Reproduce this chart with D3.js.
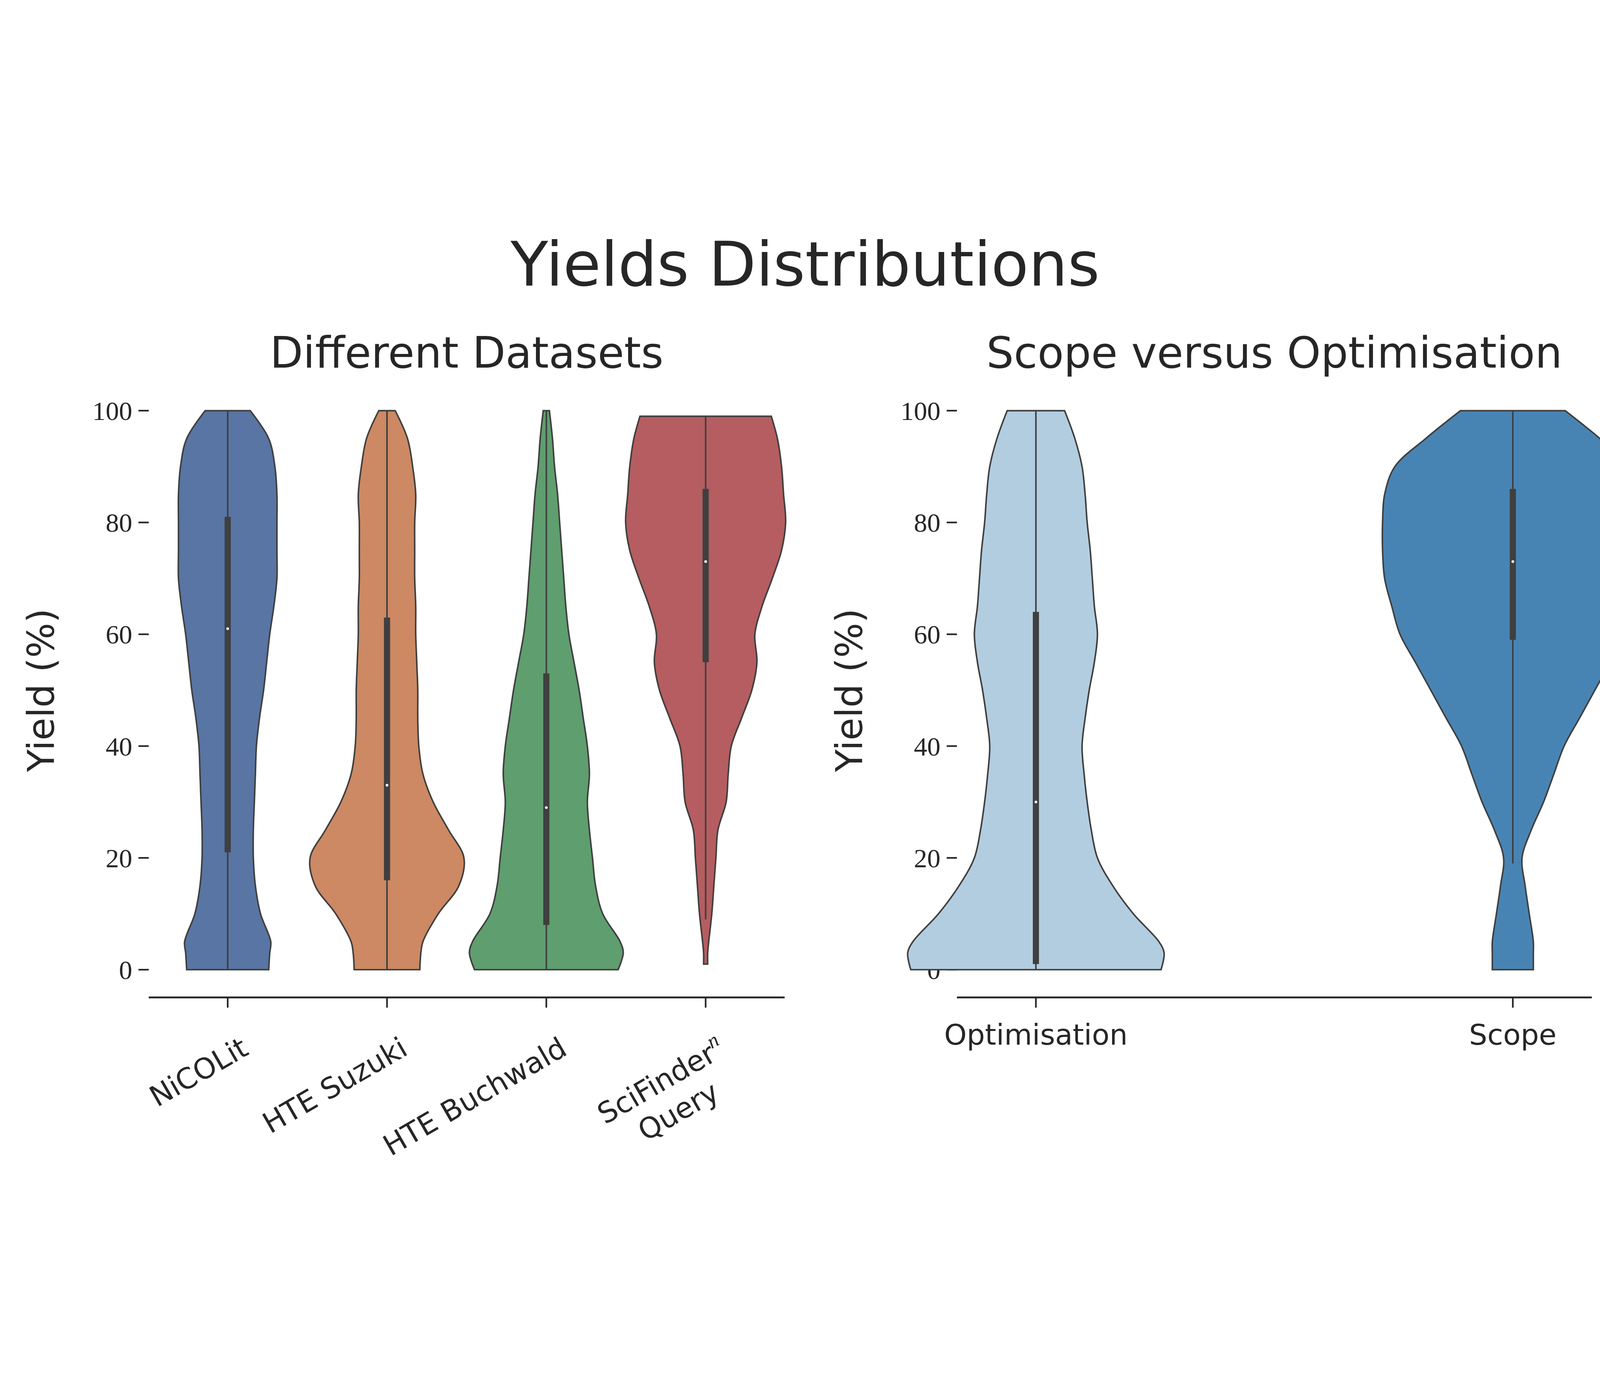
<!DOCTYPE html>
<html><head><meta charset="utf-8">
<script src="https://cdn.jsdelivr.net/npm/d3@7"></script>
<style>html,body{margin:0;padding:0;background:#fff;overflow:hidden}svg{display:block;width:100vw;height:100vh}</style>
</head><body>
<script>
// yields; density = relative half-width of each violin
var yieldsLevels = [0, 3, 5, 10, 15, 20, 25, 30, 35, 40, 45, 50, 55, 60, 65, 70, 75, 80, 85, 90, 95, 100];
var leftCats = ["NiCOLit", "HTE Suzuki", "HTE Buchwald", "SciFinder"];
var leftColors = ["#5875a4", "#cc8963", "#5f9e6e", "#b55d60"];
var nicolit = [40, 41, 42, 32, 27, 25, 25, 26, 27, 28, 31, 35, 38, 41, 45, 48, 48, 48, 48, 46, 40, 22];
var suzuki = [32, 33, 35, 50, 70, 75, 60, 45, 35, 31, 30, 30, 29, 28, 28, 27, 27, 27, 28, 25, 20, 8];
var buchwald = [70, 75, 72, 55, 48, 45, 42, 40, 42, 40, 36, 32, 27, 22, 19, 17, 15, 13, 11, 8, 6, 3];
var scifinder = [2, 2, 3, 6, 8, 10, 12, 20, 22, 25, 35, 45, 50, 48, 55, 65, 74, 78, 76, 74, 70, 64];
var leftDens = [nicolit, suzuki, buchwald, scifinder];
var leftRange = [[0, 100], [0, 100], [0, 100], [1, 99]];
var leftWhisk = [[0, 100], [0, 100], [0, 100], [9, 99]];
var leftQuart = [[21, 81], [16, 63], [8, 53], [55, 86]];
var leftMed = [61, 33, 29, 73];

var rightCats = ["Optimisation", "Scope"];
var rightColors = ["#b3cde0", "#4884b3"];
var optimisation = [122, 125, 120, 95, 75, 60, 54, 50, 47, 45, 48, 52, 57, 60, 57, 55, 53, 50, 48, 45, 38, 28];
var scope = [20, 20, 20, 16, 12, 9, 18, 30, 40, 50, 65, 80, 95, 110, 118, 125, 127, 127, 125, 115, 85, 51];
var rightDens = [optimisation, scope];
var rightRange = [[0, 100], [0, 100]];
var rightWhisk = [[0, 100], [19, 100]];
var rightQuart = [[1, 64], [59, 86]];
var rightMed = [30, 73];

var yTicks = [0, 20, 40, 60, 80, 100];

var svg = d3.select("body").append("svg")
    .attr("viewBox", "0 0 1560 934.4")
    .attr("preserveAspectRatio", "xMidYMid meet");
var sans = "DejaVu Sans", serif = "Liberation Serif";
var ink = "#262626", edge = "#3f3f3f";

svg.append("text").attr("x", 785).attr("y", 68).attr("text-anchor", "middle")
    .attr("font-family", sans).attr("font-size", 60).attr("fill", ink).text("Yields Distributions");

var y = d3.scaleLinear().domain([0, 100]).range([735, 190]);

function panel(x0, x1, cats, colors, dens, ranges, whisk, quart, med, title) {
    var g = svg.append("g");
    var x = d3.scalePoint().domain(cats).range([x0 + 77, x1 - 77]);
    var w = d3.scaleLinear().domain([0, 1]).range([0, 1]);
    g.append("text").attr("x", (x0 + x1) / 2).attr("y", 148).attr("text-anchor", "middle")
        .attr("font-family", sans).attr("font-size", 42).attr("fill", ink).text(title);
    // y axis (despined)
    yTicks.forEach(function(t) {
        g.append("line").attr("x1", x0 - 10).attr("x2", x0).attr("y1", y(t)).attr("y2", y(t))
            .attr("stroke", ink).attr("stroke-width", 1.6);
        g.append("text").attr("x", x0 - 16).attr("y", y(t)).attr("dy", "0.35em").attr("text-anchor", "end")
            .attr("font-family", serif).attr("font-size", 26).attr("fill", ink).text(t);
    });
    g.append("text").attr("transform", "translate(" + (x0 - 105) + "," + y(50) + ") rotate(-90)")
        .attr("text-anchor", "middle").attr("dy", "0.35em")
        .attr("font-family", sans).attr("font-size", 36).attr("fill", ink).text("Yield (%)");
    g.append("line").attr("x1", x0).attr("x2", x1).attr("y1", 762).attr("y2", 762)
        .attr("stroke", ink).attr("stroke-width", 1.8);

    cats.forEach(function(c, i) {
        var cx = x(c);
        var pts = yieldsLevels.map(function(v, k) { return [v, dens[i][k]]; })
            .filter(function(p) { return p[0] >= ranges[i][0] && p[0] <= ranges[i][1]; });
        if (pts[0][0] > ranges[i][0]) pts.unshift([ranges[i][0], dens[i][0]]);
        if (pts[pts.length - 1][0] < ranges[i][1]) pts.push([ranges[i][1], dens[i][dens[i].length - 1]]);
        var area = d3.area().curve(d3.curveCatmullRom)
            .y(function(p) { return y(p[0]); })
            .x0(function(p) { return cx - w(p[1]); })
            .x1(function(p) { return cx + w(p[1]); });
        g.append("path").attr("d", area(pts)).attr("fill", colors[i])
            .attr("stroke", edge).attr("stroke-width", 1.5);
        g.append("line").attr("x1", cx).attr("x2", cx).attr("y1", y(whisk[i][0])).attr("y2", y(whisk[i][1]))
            .attr("stroke", edge).attr("stroke-width", 1.5);
        g.append("line").attr("x1", cx).attr("x2", cx).attr("y1", y(quart[i][0])).attr("y2", y(quart[i][1]))
            .attr("stroke", edge).attr("stroke-width", 6);
        g.append("circle").attr("cx", cx).attr("cy", y(med[i])).attr("r", 1.3).attr("fill", "#fff");
        g.append("line").attr("x1", cx).attr("x2", cx).attr("y1", 762).attr("y2", 772)
            .attr("stroke", ink).attr("stroke-width", 1.6);
    });
    return x;
}

var xl = panel(145, 765, leftCats, leftColors, leftDens, leftRange, leftWhisk, leftQuart, leftMed, "Different Datasets");
var xr = panel(933, 1552, rightCats, rightColors, rightDens, rightRange, rightWhisk, rightQuart, rightMed, "Scope versus Optimisation");

// rotated labels on the left
leftCats.forEach(function(c, i) {
    var g = svg.append("g").attr("transform", "translate(" + (xl(c) + 12) + ",800) rotate(-30)");
    if (c === "SciFinder") {
        var t1 = g.append("text").attr("x", -70).attr("dy", "0.7em").attr("text-anchor", "middle")
            .attr("font-family", sans).attr("font-size", 28).attr("fill", ink).text("SciFinder");
        t1.append("tspan").attr("font-family", serif).attr("font-style", "italic")
            .attr("font-size", 20).attr("dy", "-0.6em").text("n");
        g.append("text").attr("x", -70).attr("y", 34).attr("dy", "0.7em").attr("text-anchor", "middle")
            .attr("font-family", sans).attr("font-size", 28).attr("fill", ink).text("Query");
    } else {
        g.append("text").attr("text-anchor", "end").attr("dy", "0.7em")
            .attr("font-family", sans).attr("font-size", 28).attr("fill", ink).text(c);
    }
});
rightCats.forEach(function(c) {
    svg.append("text").attr("x", xr(c)).attr("y", 808).attr("text-anchor", "middle")
        .attr("font-family", sans).attr("font-size", 28).attr("fill", ink).text(c);
});
</script>
</body></html>
